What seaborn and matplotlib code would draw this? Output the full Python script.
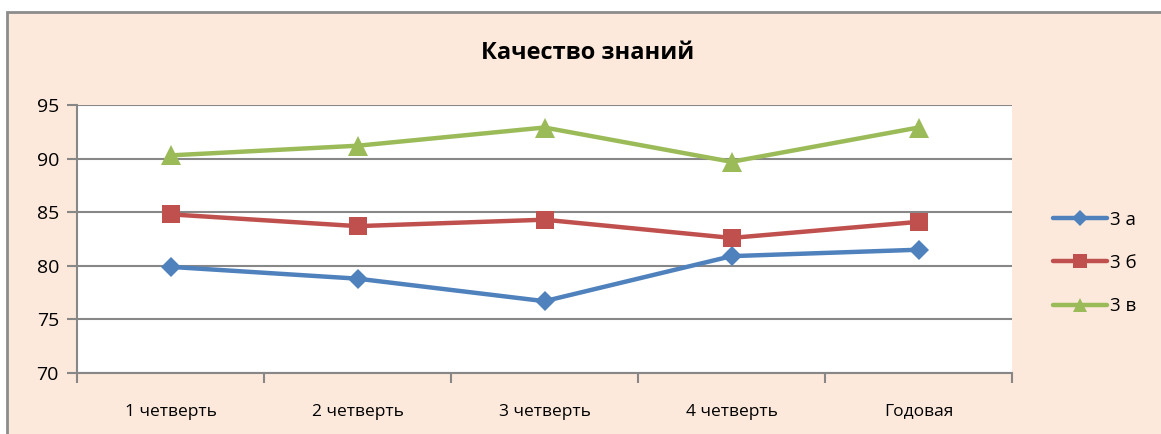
import numpy as np
import pandas as pd
import seaborn as sns
import matplotlib.pyplot as plt
from matplotlib.patches import Rectangle

### Качество знаний по четвертям

quarters = ['1 четверть', '2 четверть', '3 четверть', '4 четверть', 'Годовая']
class_a = [79.9, 78.8, 76.7, 80.9, 81.5]
class_b = [84.8, 83.7, 84.3, 82.6, 84.1]
class_v = [90.3, 91.2, 92.9, 89.7, 92.9]
classes = ['3 а', '3 б', '3 в']

df = pd.DataFrame({
    'period': quarters * 3,
    'value': class_a + class_b + class_v,
    'class': [c for c in classes for _ in quarters],
})

sns.set_style('white')
plt.rcParams['font.family'] = ['Open Sans', 'DejaVu Sans']
plt.rcParams['text.color'] = 'black'
plt.rcParams['xtick.labelcolor'] = 'black'
plt.rcParams['ytick.labelcolor'] = 'black'

fig = plt.figure(figsize=(11.61, 4.34), dpi=100)
fig.patch.set_facecolor('white')
# chart area border like Excel
fig.patches.append(Rectangle((7 / 1161, -0.05), 1.0, 1.05 - 12 / 434, transform=fig.transFigure,
                             facecolor='#FDE9DB', edgecolor='#8C8C8C', lw=2, zorder=-5))

ax = fig.add_axes([77 / 1161, 1 - 373 / 434, 935 / 1161, 268 / 434])
ax.set_zorder(2)
ax.set_facecolor('white')

palette = {'3 а': '#4F81BD', '3 б': '#C0504D', '3 в': '#9BBB59'}
markers = {'3 а': 'D', '3 б': 's', '3 в': '^'}
sns.lineplot(data=df, x='period', y='value', hue='class', style='class',
             palette=palette, markers=markers, dashes=False, sort=False,
             linewidth=3.2, markersize=13, markeredgewidth=0, ax=ax)

msize = {'D': 10.5, 's': 12.5, '^': 14}
for ln in ax.get_lines():
    m = ln.get_marker()
    if m in msize:
        ln.set_markersize(msize[m])

ax.set_xlim(-0.5, 4.5)
ax.set_ylim(70, 95)
ax.set_yticks(np.arange(70, 96, 5))
ax.set_xticks(range(len(quarters)))
ax.set_xticklabels(quarters)
ax.set_xticks(np.arange(-0.5, 4.6, 1), minor=True)
ax.set_xlabel('')
ax.set_ylabel('')

ax.grid(axis='y', color='#878787', lw=1.5)
ax.set_axisbelow(True)
for s in ['top', 'right']:
    ax.spines[s].set_visible(False)
for s in ['left', 'bottom']:
    ax.spines[s].set_color('#878787')
    ax.spines[s].set_linewidth(1.5)

ax.tick_params(axis='y', which='major', length=7, width=1.5, color='#878787',
               labelsize=14, pad=6, left=True)
ax.tick_params(axis='x', which='major', length=0, labelsize=12.5, pad=22)
ax.tick_params(axis='x', which='minor', length=7, width=1.5, color='#878787', bottom=True)

fig.text(588 / 1161, 1 - 53 / 434, 'Качество знаний', ha='center', va='center',
         fontsize=17, fontweight='bold', zorder=3)

handles, labels = ax.get_legend_handles_labels()
leg = ax.legend(handles, labels, loc='center left', bbox_to_anchor=(1036 / 1161, 1 - 263 / 434),
                bbox_transform=fig.transFigure, frameon=False, fontsize=13.5,
                handlelength=2.9, handletextpad=0.15, labelspacing=1.35)
for h in leg.get_lines():
    h.set_markersize(h.get_markersize() * 0.75)

fig.savefig('out.png', dpi=100, facecolor=fig.get_facecolor())
